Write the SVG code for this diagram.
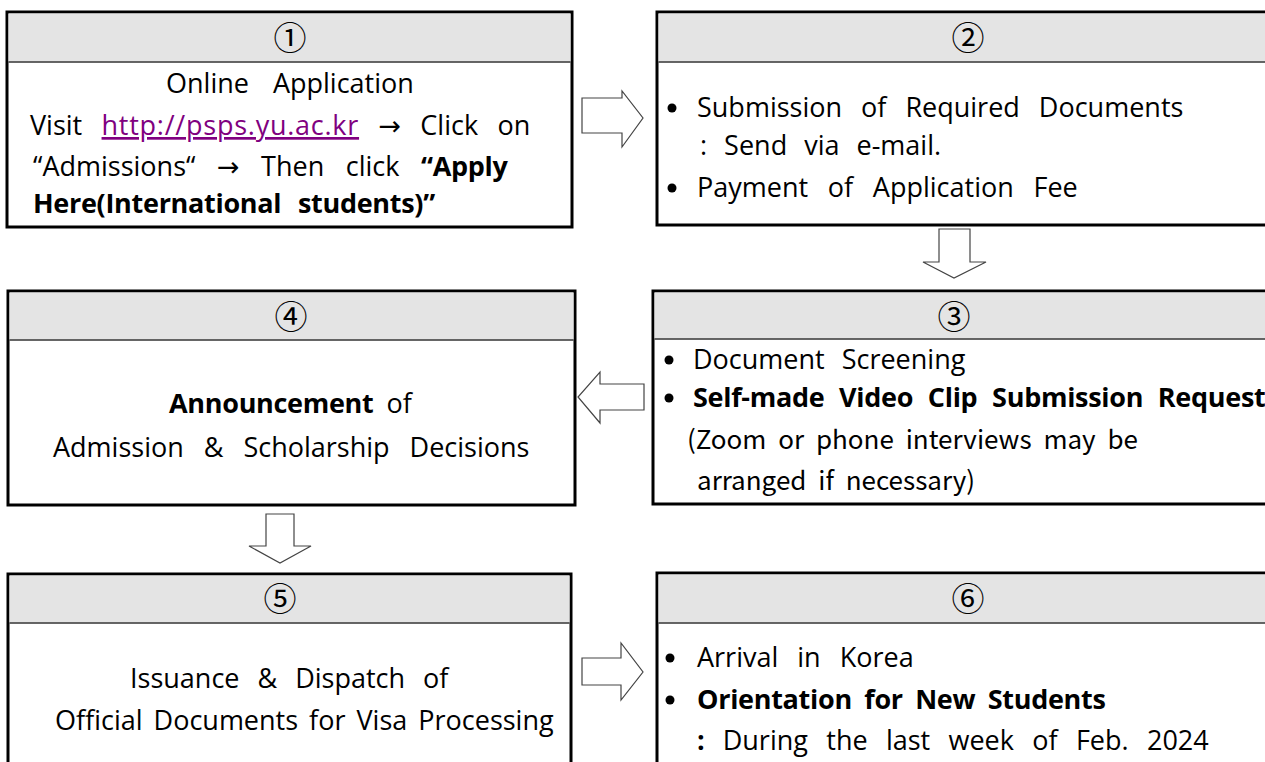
<svg xmlns="http://www.w3.org/2000/svg" width="1265" height="762" viewBox="0 0 1265 762">
<style>
.box{fill:#ffffff;stroke:#000;stroke-width:3}
.hdr{fill:#e4e4e4;stroke:none}
.sep{stroke:#333;stroke-width:1.5}
.num{font-family:"Noto Sans CJK KR","DejaVu Sans",sans-serif;font-size:33px;fill:#000;text-anchor:middle}
.t{font-family:"Open Sans","Noto Sans",sans-serif;font-size:27px;fill:#000;word-spacing:10px}
.b{font-weight:bold;letter-spacing:-0.3px}
.n{font-family:"Noto Sans CJK KR",sans-serif;font-size:26px;fill:#000;word-spacing:6px}
.lnk{fill:#800080;text-decoration:underline;letter-spacing:0.75px}
.ar{font-family:"DejaVu Sans",sans-serif}
.arr{fill:#fff;stroke:#444;stroke-width:1.2}
.dot{fill:#000}
</style>
<g id="connectors">
<polygon class="arr" points="582,98 622,98 622,91 643,118 622,147 622,133 582,133"/>
<polygon class="arr" points="939,229 970,229 970,262 986,262 954,278 923,262 939,262"/>
<polygon class="arr" points="644,384 600,384 600,372 578,397 600,423 600,410 644,410"/>
<polygon class="arr" points="266,514 294,514 294,546 311,546 280,563 249,546 266,546"/>
<polygon class="arr" points="582,658 621,658 621,643 643,672 621,700 621,685 582,685"/>
</g>
<g id="step1">
<rect class="box" x="7" y="12" width="565" height="215"/>
<rect class="hdr" x="8.5" y="13.5" width="562" height="48"/>
<line class="sep" x1="8.5" y1="62" x2="570.5" y2="62"/>
<text class="num" x="290" y="50">①</text>
<text class="t" x="166" y="93" style="word-spacing:17px">Online Application</text>
<text class="t" x="30" y="135" style="word-spacing:12.3px">Visit <tspan class="lnk">http://psps.yu.ac.kr</tspan> <tspan class="ar">→</tspan> Click on</text>
<text class="t" x="33" y="176" style="word-spacing:14.5px">“Admissions“ <tspan class="ar">→</tspan> Then click <tspan class="b">“Apply</tspan></text>
<text class="t b" x="33" y="213">Here(International students)”</text>
</g>
<g id="step2">
<rect class="box" x="657" y="12" width="620" height="213"/>
<rect class="hdr" x="658.5" y="13.5" width="617" height="48"/>
<line class="sep" x1="658.5" y1="62" x2="1275" y2="62"/>
<text class="num" x="968" y="50">②</text>
<circle class="dot" cx="672" cy="108" r="4.5"/>
<text class="t" x="697" y="117" style="word-spacing:12px">Submission of Required Documents</text>
<text class="t" x="700" y="155">: Send via e-mail.</text>
<circle class="dot" cx="672" cy="188" r="4.5"/>
<text class="t" x="697" y="197" style="word-spacing:12.7px">Payment of Application Fee</text>
</g>
<g id="step3">
<rect class="box" x="653" y="291" width="624" height="213"/>
<rect class="hdr" x="654.5" y="292.5" width="621" height="46"/>
<line class="sep" x1="654.5" y1="339" x2="1275" y2="339"/>
<text class="num" x="954" y="329">③</text>
<circle class="dot" cx="669" cy="360" r="4.5"/>
<text class="t" x="693" y="369">Document Screening</text>
<circle class="dot" cx="669" cy="398" r="4.5"/>
<text class="t b" x="693" y="407" style="word-spacing:8px">Self-made Video Clip Submission Request</text>
<text class="n" x="687" y="449">(Zoom or phone interviews may be</text>
<text class="n" x="697" y="490">arranged if necessary)</text>
</g>
<g id="step4">
<rect class="box" x="8" y="291" width="567" height="214"/>
<rect class="hdr" x="9.5" y="292.5" width="564" height="47"/>
<line class="sep" x1="9.5" y1="340" x2="573.5" y2="340"/>
<text class="num" x="291" y="329">④</text>
<text class="t" x="169" y="413" style="word-spacing:6px"><tspan class="b">Announcement</tspan> of</text>
<text class="t" x="53" y="457" style="word-spacing:13px">Admission &amp; Scholarship Decisions</text>
</g>
<g id="step5">
<rect class="box" x="8" y="574" width="563" height="210"/>
<rect class="hdr" x="9.5" y="575.5" width="560" height="47"/>
<line class="sep" x1="9.5" y1="623" x2="569.5" y2="623"/>
<text class="num" x="280" y="611">⑤</text>
<text class="t" x="130" y="688" style="word-spacing:11px">Issuance &amp; Dispatch of</text>
<text class="t" x="55" y="730" style="word-spacing:4px">Official Documents for Visa Processing</text>
</g>
<g id="step6">
<rect class="box" x="657" y="573" width="620" height="210"/>
<rect class="hdr" x="658.5" y="574.5" width="617" height="48"/>
<line class="sep" x1="658.5" y1="623" x2="1275" y2="623"/>
<text class="num" x="968" y="611">⑥</text>
<circle class="dot" cx="670" cy="658" r="4.5"/>
<text class="t" x="697" y="667" style="word-spacing:12px">Arrival in Korea</text>
<circle class="dot" cx="670" cy="700" r="4.5"/>
<text class="t b" x="697" y="709" style="word-spacing:5.7px">Orientation for New Students</text>
<text class="t" x="697" y="750" style="word-spacing:11.3px"><tspan class="b">:</tspan> During the last week of Feb. 2024</text>
</g>
</svg>
